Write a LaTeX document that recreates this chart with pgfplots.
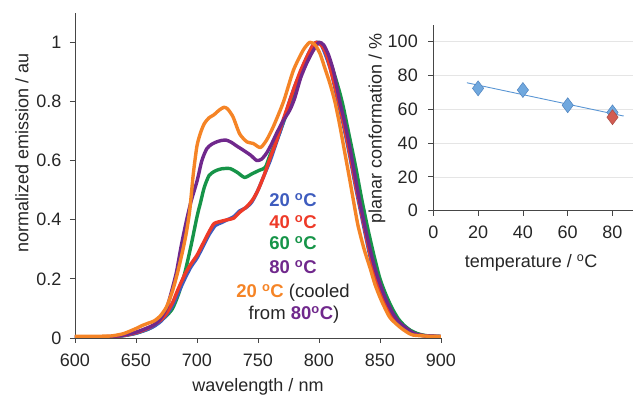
\documentclass[border=0pt]{standalone}
\usepackage{pgfplots}
\pgfplotsset{compat=1.18}
\usepackage{fontspec}
\setmainfont{Liberation Sans}
\definecolor{cblue}{RGB}{62,92,190}
\definecolor{cred}{RGB}{238,58,40}
\definecolor{cgreen}{RGB}{22,148,72}
\definecolor{cpurple}{RGB}{112,40,140}
\definecolor{corange}{RGB}{245,132,38}
\definecolor{dblue}{RGB}{112,168,222}
\definecolor{dblueedge}{RGB}{78,130,190}
\definecolor{dred}{RGB}{210,92,82}
\definecolor{tline}{RGB}{90,150,212}
\definecolor{axgray}{RGB}{70,70,70}
\newcommand{\dg}{\textsuperscript{o}}
\pgfplotsset{
  common/.style={
    scale only axis,
    axis x line*=bottom, axis y line*=left,
    axis line style={axgray, line width=0.8pt},
    tick style={axgray, line width=0.8pt},
    tick align=outside,
    major tick length=5pt,
    /pgf/number format/assume math mode=true,
    ticklabel style={font=\fontsize{18}{20}\selectfont, text=black!85},
    xticklabel style={yshift=-7pt},
    label style={font=\fontsize{18}{20}\selectfont, text=black!85},
  }
}
\begin{document}
\begin{tikzpicture}
\useasboundingbox (0pt,0pt) rectangle (633pt,398pt);
% ---------------- main axis
\begin{axis}[common,
  at={(75pt,60pt)}, anchor=south west,
  width=366pt, height=325.3pt,
  xmin=600, xmax=900, ymin=0, ymax=1.1,
  xtick={600,650,700,750,800,850,900},
  ytick={0,0.2,0.4,0.6,0.8,1},
  yticklabels={0,0.2,0.4,0.6,0.8,1},
  yticklabel style={xshift=-5pt},
  xlabel={wavelength / nm},
  ylabel={normalized emission / au},
  xlabel style={at={(axis description cs:0.5,0)}, anchor=base, yshift=-54pt},
  ylabel style={at={(axis description cs:-0.1448,0.569)}, anchor=center},
  every axis plot/.append style={line width=3.4pt, line join=round, line cap=round, smooth, tension=0.4},
]
% green 60 C
\addplot[cgreen] coordinates {
(600,0.003)(620,0.003)(630,0.004)(640,0.008)(650,0.016)(660,0.03)(665,0.042)(670,0.058)(675,0.075)(680,0.1)(685,0.15)(690,0.22)(695,0.31)(700,0.41)(703,0.46)(706,0.51)(710,0.55)(715,0.565)(720,0.572)(727,0.573)(733,0.56)(739,0.543)(745,0.555)(751,0.567)(756,0.577)(760,0.62)(765,0.665)(770,0.72)(775,0.775)(780,0.83)(785,0.89)(790,0.94)(795,0.98)(799,1.0)(803,0.99)(807,0.96)(812,0.9)(817,0.83)(820,0.78)(825,0.68)(830,0.58)(835,0.47)(840,0.37)(845,0.28)(850,0.2)(855,0.145)(860,0.1)(865,0.065)(870,0.042)(875,0.026)(880,0.016)(885,0.01)(890,0.007)(900,0.005)};
% blue 20 C
\addplot[cblue] coordinates {
(600,0.003)(610,0.003)(620,0.003)(630,0.004)(640,0.008)(650,0.016)(660,0.03)(665,0.04)(670,0.055)(675,0.078)(680,0.11)(685,0.155)(690,0.2)(695,0.24)(700,0.27)(705,0.31)(710,0.35)(715,0.38)(720,0.39)(725,0.4)(730,0.41)(735,0.43)(740,0.44)(745,0.46)(750,0.5)(755,0.55)(760,0.6)(765,0.66)(770,0.72)(775,0.79)(780,0.85)(785,0.9)(790,0.95)(795,0.99)(798,1.0)(802,0.99)(806,0.95)(810,0.9)(815,0.81)(820,0.72)(825,0.62)(830,0.51)(835,0.41)(840,0.31)(845,0.22)(850,0.16)(855,0.11)(860,0.07)(865,0.045)(870,0.03)(875,0.018)(880,0.011)(890,0.006)(900,0.005)};
% red 40 C
\addplot[cred] coordinates {
(600,0.004)(610,0.004)(620,0.004)(630,0.005)(640,0.009)(648,0.016)(655,0.025)(662,0.038)(670,0.06)(675,0.083)(680,0.12)(684,0.16)(690,0.215)(695,0.25)(700,0.28)(705,0.32)(710,0.36)(714,0.387)(720,0.395)(725,0.4)(730,0.405)(735,0.425)(741,0.445)(746,0.47)(750,0.5)(755,0.55)(760,0.61)(765,0.665)(770,0.73)(775,0.79)(780,0.85)(785,0.905)(790,0.95)(795,0.99)(798,1.0)(802,0.99)(806,0.96)(810,0.9)(815,0.82)(820,0.73)(825,0.63)(830,0.52)(835,0.42)(840,0.32)(845,0.23)(850,0.165)(855,0.115)(860,0.075)(865,0.048)(870,0.031)(875,0.019)(880,0.012)(890,0.006)(900,0.005)};
% purple 80 C
\addplot[cpurple] coordinates {
(600,0.004)(620,0.004)(630,0.005)(640,0.01)(650,0.02)(658,0.032)(665,0.045)(670,0.065)(675,0.1)(678,0.14)(683,0.22)(687,0.31)(691,0.39)(695,0.46)(700,0.53)(704,0.6)(708,0.64)(712,0.655)(716,0.663)(720,0.668)(724,0.669)(728,0.662)(733,0.648)(738,0.635)(744,0.618)(749,0.6)(753,0.605)(757,0.625)(761,0.655)(765,0.69)(770,0.73)(776,0.77)(780,0.81)(785,0.88)(790,0.93)(795,0.97)(800,1.0)(804,0.99)(808,0.955)(812,0.9)(817,0.8)(821,0.73)(825,0.65)(829,0.56)(833,0.47)(838,0.37)(843,0.28)(847,0.22)(852,0.16)(856,0.12)(861,0.08)(866,0.052)(871,0.035)(876,0.02)(882,0.01)(890,0.007)(900,0.005)};
% orange 20 C cooled
\addplot[corange] coordinates {
(600,0.006)(610,0.006)(620,0.006)(630,0.007)(640,0.015)(650,0.032)(655,0.042)(660,0.05)(665,0.058)(670,0.075)(675,0.105)(680,0.16)(684,0.22)(688,0.29)(691,0.35)(694,0.43)(697,0.556)(700,0.65)(703,0.695)(706,0.725)(710,0.745)(714,0.755)(718,0.77)(722,0.78)(725,0.775)(729.5,0.748)(735,0.69)(741,0.663)(746,0.658)(752,0.644)(757,0.669)(762.5,0.714)(771,0.8)(779,0.905)(787,0.973)(792.5,1.0)(797,0.99)(801,0.96)(805,0.91)(809,0.86)(813,0.8)(817,0.72)(821,0.63)(825,0.54)(828,0.47)(832,0.38)(837,0.3)(842,0.235)(846,0.18)(851,0.128)(858,0.07)(866,0.038)(872,0.02)(877,0.01)(890,0.006)(900,0.005)};
\end{axis}
% ---------------- inset axis
\begin{axis}[common,
  at={(433.3pt,187.3pt)}, anchor=south west,
  width=201.6pt, height=185.9pt,
  xmin=0, xmax=90, ymin=0, ymax=110,
  xtick={0,20,40,60,80},
  ytick={0,20,40,60,80,100},
  yticklabel style={xshift=-7pt},
  ymajorgrids, grid style={black!10, line width=0.6pt},
  xlabel={temperature / \dg C},
  ylabel={planar conformation / \%},
  xlabel style={at={(axis description cs:0.485,0)}, anchor=base, yshift=-57pt},
  ylabel style={at={(axis description cs:-0.279,0.44)}, anchor=center},
]
\addplot[tline, line width=0.9pt] coordinates {(15,75.7)(85,56)};
\addplot[only marks, mark=diamond*, mark size=7.5pt, mark options={fill=dblue, draw=dblueedge, line width=0.5pt}] coordinates {(20,72.4)(40,71.4)(60,62.4)(80,58.2)};
\addplot[only marks, mark=diamond*, mark size=7.5pt, mark options={fill=dred, draw=dred!80!black, line width=0.5pt}] coordinates {(80,55.3)};
\end{axis}
% ---------------- legend text
\begin{scope}[every node/.style={anchor=base, inner sep=0pt, font=\fontsize{18.5}{20}\selectfont}]
\node at (293pt,191pt) {\bfseries\color{cblue}20 \dg C};
\node at (293pt,169pt) {\bfseries\color{cred}40 \dg C};
\node at (293pt,148pt) {\bfseries\color{cgreen}60 \dg C};
\node at (293pt,124pt) {\bfseries\color{cpurple}80 \dg C};
\node at (293pt,100pt) {{\bfseries\color{corange}20 \dg C} \color{black!85}(cooled};
\node at (294pt,78pt) {\color{black!85}from {\bfseries\color{cpurple}80\dg C}\color{black!85})};
\end{scope}
\end{tikzpicture}
\end{document}
